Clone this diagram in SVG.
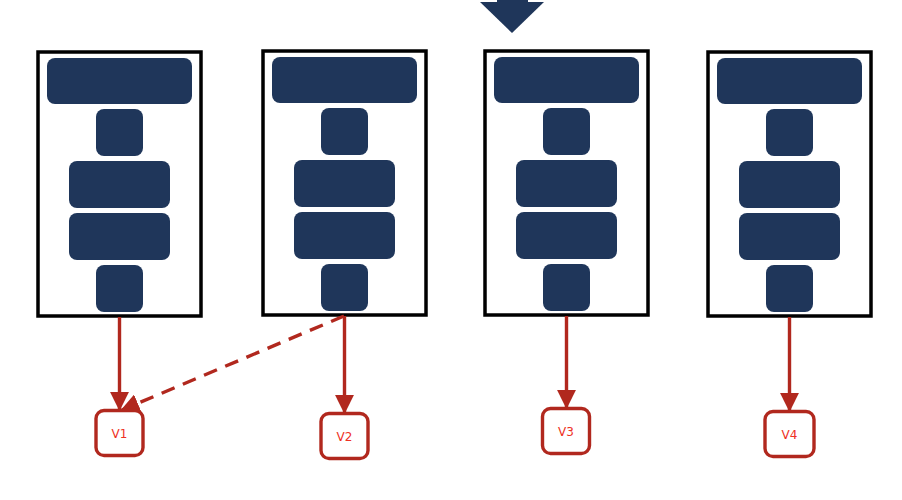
<svg xmlns="http://www.w3.org/2000/svg" width="902" height="500" viewBox="0 0 902 500">
  <style>
    .frame { fill: #ffffff; stroke: #000000; stroke-width: 3.5; }
    .blk { fill: #1f365a; }
    .link { stroke: #b1281e; stroke-width: 3.4; fill: none; }
    .dash { stroke-dasharray: 14 9; }
    .vbox { fill: #ffffff; stroke: #b1281e; stroke-width: 3.4; }
    .vlabel { font-family: "DejaVu Sans", "Liberation Sans", sans-serif; font-size: 12px; fill: #ee3124; text-anchor: middle; }
  </style>
  <defs>
    <marker id="arrow" viewBox="0 0 10 10" refX="9" refY="5" markerWidth="5.6" markerHeight="5.6" orient="auto" markerUnits="strokeWidth">
      <path d="M0,0 L10,5 L0,10 Z" fill="#b1281e"/>
    </marker>
    <g id="stack">
      <rect class="blk" x="9" y="6" width="145" height="46" rx="8"/>
      <rect class="blk" x="58" y="57" width="47" height="47" rx="8"/>
      <rect class="blk" x="31" y="109" width="101" height="47" rx="8"/>
      <rect class="blk" x="31" y="161" width="101" height="47" rx="8"/>
      <rect class="blk" x="58" y="213" width="47" height="47" rx="8"/>
    </g>
  </defs>

  <!-- incoming arrow at top -->
  <g id="input-arrow">
    <rect class="blk" x="497" y="0" width="31" height="3"/>
    <polygon class="blk" points="480,2 544,2 512,33"/>
  </g>

  <!-- the four columns -->
  <g id="col1">
    <rect class="frame" x="38" y="52" width="163" height="264"/>
    <use href="#stack" x="38" y="52"/>
  </g>
  <g id="col2">
    <rect class="frame" x="263" y="51" width="163" height="264"/>
    <use href="#stack" x="263" y="51"/>
  </g>
  <g id="col3">
    <rect class="frame" x="485" y="51" width="163" height="264"/>
    <use href="#stack" x="485" y="51"/>
  </g>
  <g id="col4">
    <rect class="frame" x="708" y="52" width="163" height="264"/>
    <use href="#stack" x="708" y="52"/>
  </g>

  <!-- connectors -->
  <g id="connectors">
    <line class="link" x1="119.5" y1="317" x2="119.5" y2="409" marker-end="url(#arrow)"/>
    <line class="link" x1="344.5" y1="316" x2="344.5" y2="412" marker-end="url(#arrow)"/>
    <line class="link" x1="566.5" y1="316" x2="566.5" y2="407" marker-end="url(#arrow)"/>
    <line class="link" x1="789.5" y1="317" x2="789.5" y2="410" marker-end="url(#arrow)"/>
    <line class="link dash" x1="344" y1="316" x2="122" y2="410" marker-end="url(#arrow)"/>
  </g>

  <!-- value nodes -->
  <g id="v1">
    <rect class="vbox" x="96" y="410.5" width="47" height="45" rx="8"/>
    <text class="vlabel" x="119.5" y="437.5">V1</text>
  </g>
  <g id="v2">
    <rect class="vbox" x="321" y="413.5" width="47" height="45" rx="8"/>
    <text class="vlabel" x="344.5" y="440.5">V2</text>
  </g>
  <g id="v3">
    <rect class="vbox" x="542.5" y="408.5" width="47" height="45" rx="8"/>
    <text class="vlabel" x="566" y="435.5">V3</text>
  </g>
  <g id="v4">
    <rect class="vbox" x="765" y="411.5" width="49" height="45" rx="8"/>
    <text class="vlabel" x="789.5" y="438.5">V4</text>
  </g>
</svg>
